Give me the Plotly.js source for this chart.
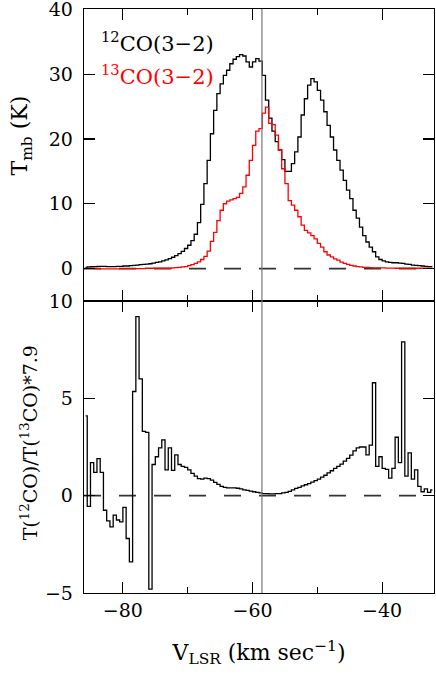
<!DOCTYPE html>
<html>
<head>
<meta charset="utf-8">
<script src="https://cdn.plot.ly/plotly-3.0.1.min.js"></script>
<style>
  html, body { margin: 0; padding: 0; background: #fff; }
  #chart { width: 436px; height: 676px; }
</style>
</head>
<body>
<div id="chart"></div>
<script>
// channel centres, km/s (0.5 km/s channels)
const vel = [
  -85.75,-85.25,-84.75,-84.25,-83.75,-83.25,-82.75,-82.25,-81.75,-81.25,
  -80.75,-80.25,-79.75,-79.25,-78.75,-78.25,-77.75,-77.25,-76.75,-76.25,
  -75.75,-75.25,-74.75,-74.25,-73.75,-73.25,-72.75,-72.25,-71.75,-71.25,
  -70.75,-70.25,-69.75,-69.25,-68.75,-68.25,-67.75,-67.25,-66.75,-66.25,
  -65.75,-65.25,-64.75,-64.25,-63.75,-63.25,-62.75,-62.25,-61.75,-61.25,
  -60.75,-60.25,-59.75,-59.25,-58.75,-58.25,-57.75,-57.25,-56.75,-56.25,
  -55.75,-55.25,-54.75,-54.25,-53.75,-53.25,-52.75,-52.25,-51.75,-51.25,
  -50.75,-50.25,-49.75,-49.25,-48.75,-48.25,-47.75,-47.25,-46.75,-46.25,
  -45.75,-45.25,-44.75,-44.25,-43.75,-43.25,-42.75,-42.25,-41.75,-41.25,
  -40.75,-40.25,-39.75,-39.25,-38.75,-38.25,-37.75,-37.25,-36.75,-36.25,
  -35.75,-35.25,-34.75,-34.25,-33.75,-33.25,-32.75,-32.25
];

// 12CO(3-2) main beam temperature, K
const t12co = [
  0.2,0.25,0.3,0.3,0.35,0.35,0.35,0.3,0.3,0.3,
  0.35,0.35,0.4,0.4,0.45,0.5,0.55,0.6,0.65,0.7,
  0.75,0.85,0.95,1.05,1.2,1.35,1.55,1.75,2.0,2.3,
  2.65,3.1,3.6,4.3,5.3,7.1,9.9,13.1,16.7,20.8,
  24.4,27.0,28.5,29.8,30.6,31.6,32.3,32.7,33.0,32.8,
  31.9,31.1,31.9,32.4,32.0,29.8,26.0,23.2,21.2,19.6,
  18.3,16.8,15.0,15.0,16.2,18.0,20.3,23.7,26.2,28.3,
  29.3,28.8,27.5,26.0,24.2,22.1,20.3,18.3,16.7,15.2,
  13.6,12.1,10.8,9.0,7.8,6.4,5.1,4.1,3.3,2.6,
  1.8,1.4,1.2,1.05,0.95,0.9,0.9,0.85,0.8,0.7,
  0.65,0.55,0.5,0.45,0.4,0.35,0.3,0.3
];

// 13CO(3-2) main beam temperature, K
const t13co = [
  0.05,0.05,0.05,0.0,0.0,-0.05,-0.05,-0.05,-0.05,-0.05,
  -0.05,0.0,0.0,0.0,0.0,0.0,0.0,0.0,0.0,0.05,
  0.05,0.05,0.05,0.05,0.05,0.05,0.05,0.1,0.15,0.2,
  0.25,0.3,0.45,0.6,0.8,1.05,1.4,1.9,2.7,4.2,
  5.6,7.4,9.0,10.0,10.4,10.6,10.8,11.0,11.6,12.6,
  14.4,16.7,19.0,21.2,21.6,24.0,24.9,22.4,22.2,20.6,
  18.3,15.4,13.1,10.5,9.8,9.0,8.0,6.7,5.9,5.5,
  5.1,4.6,3.9,3.3,2.6,2.1,1.8,1.5,1.3,1.0,
  0.8,0.65,0.5,0.4,0.3,0.25,0.2,0.18,0.15,0.12,
  0.1,0.1,0.1,0.08,0.08,0.08,0.05,0.05,0.05,0.05,
  0.05,0.05,0.05,0.05,0.05,0.05,0.05,0.05
];

// T(12CO)/T(13CO)*7.9 as plotted
const ratio = [
  4.1,-0.55,1.7,1.2,1.9,1.2,-0.75,-1.3,-1.6,-1.0,
  -1.25,-1.35,-0.6,-2.2,-3.4,5.35,9.2,6.0,3.3,3.25,
  -4.8,1.6,2.0,2.45,2.87,1.33,2.45,1.3,2.1,1.6,
  1.5,1.45,1.33,1.15,1.0,0.88,0.85,0.9,0.88,0.8,
  0.68,0.58,0.48,0.43,0.4,0.4,0.4,0.38,0.35,0.3,
  0.27,0.23,0.2,0.17,0.14,0.11,0.1,0.09,0.09,0.1,
  0.11,0.14,0.17,0.22,0.3,0.37,0.43,0.5,0.56,0.62,
  0.7,0.77,0.85,0.95,1.05,1.17,1.28,1.4,1.5,1.62,
  1.77,1.92,2.08,2.3,2.45,2.5,2.5,2.1,2.6,5.8,
  1.5,2.0,1.4,1.35,0.9,1.4,3.0,1.7,7.9,1.0,
  2.2,0.85,1.33,0.48,0.2,0.35,0.17,0.3
];

const vMark = -58.55;   // vertical reference velocity
const xRange = [-86, -32];

const FONT = "DejaVu Serif, Liberation Serif, serif";

const step = (y, color, xa, ya) => ({
  x: vel, y: y, xaxis: xa, yaxis: ya,
  type: "scatter", mode: "lines",
  line: { shape: "hvh", color: color, width: 1.3 },
  hoverinfo: "skip", showlegend: false
});

const traces = [
  step(t12co, "#000", "x2", "y"),
  step(t13co, "#ff0000", "x2", "y"),
  step(ratio, "#000", "x", "y2")
];

const xCommon = {
  range: xRange,
  tickmode: "linear", tick0: 0, dtick: 20,
  ticks: "inside", ticklen: 11, tickwidth: 1.2, tickcolor: "#000",
  minor: { dtick: 10, ticks: "inside", ticklen: 6, tickwidth: 1.2, tickcolor: "#000" },
  showline: true, linecolor: "#000", linewidth: 1.3, mirror: "ticks",
  showgrid: false, zeroline: false,
  tickfont: { family: FONT, size: 19, color: "#000" },
  ticklabeloverflow: "allow"
};

const yCommon = {
  ticks: "inside", ticklen: 11, tickwidth: 1.2, tickcolor: "#000",
  showline: true, linecolor: "#000", linewidth: 1.3, mirror: "ticks",
  showgrid: false, zeroline: false,
  tickfont: { family: FONT, size: 19, color: "#000" },
  ticklabelstandoff: 6,
  ticklabeloverflow: "allow"
};

const dashLine = (yref) => ({
  type: "line", xref: "paper", x0: 0, x1: 1, yref: yref, y0: 0, y1: 0,
  line: { color: "#333", width: 1.6, dash: "17px,18px" }, layer: "below"
});

const layout = {
  width: 436, height: 676,
  margin: { l: 84, r: 2, t: 9, b: 83 },
  paper_bgcolor: "#fff", plot_bgcolor: "#fff",
  font: { family: FONT, color: "#000" },
  xaxis: Object.assign({}, xCommon, {
    anchor: "y2",
    title: { text: "V<sub>LSR</sub> (km sec<sup>−1</sup>)", font: { family: FONT, size: 22 }, standoff: 24 }
  }),
  xaxis2: Object.assign({}, xCommon, { anchor: "y", matches: "x", showticklabels: false }),
  yaxis: Object.assign({}, yCommon, { domain: [0.5, 1], range: [-5, 40.05], tickmode: "array", tickvals: [0, 10, 20, 30, 40] }),
  yaxis2: Object.assign({}, yCommon, { domain: [0, 0.5], range: [-5, 10], tickmode: "array", tickvals: [-5, 0, 5, 10] }),
  shapes: [
    dashLine("y"),
    dashLine("y2"),
    { type: "line", xref: "x", x0: vMark, x1: vMark, yref: "paper", y0: 0, y1: 1,
      line: { color: "#777", width: 1.2 } }
  ],
  annotations: [
    { xref: "paper", yref: "paper", x: 0.042, y: 0.9435, xanchor: "left", yanchor: "middle",
      showarrow: false, text: "<sup>12</sup>CO(3−2)", font: { family: FONT, size: 21, color: "#000" } },
    { xref: "paper", yref: "paper", x: 0.042, y: 0.887, xanchor: "left", yanchor: "middle",
      showarrow: false, text: "<sup>13</sup>CO(3−2)", font: { family: FONT, size: 21, color: "#ff0000" } },
    { xref: "paper", yref: "paper", x: -0.179, y: 0.784, xanchor: "center", yanchor: "middle",
      textangle: -90, showarrow: false, text: "T<sub>mb</sub> (K)", font: { family: FONT, size: 22, color: "#000" } },
    { xref: "paper", yref: "paper", x: -0.158, y: 0.2575, xanchor: "center", yanchor: "middle",
      textangle: -90, showarrow: false, text: "T(<sup>12</sup>CO)/T(<sup>13</sup>CO)*7.9", font: { family: FONT, size: 19, color: "#000" } }
  ]
};

Plotly.newPlot("chart", traces, layout, { displayModeBar: false, staticPlot: true });
</script>
</body>
</html>
